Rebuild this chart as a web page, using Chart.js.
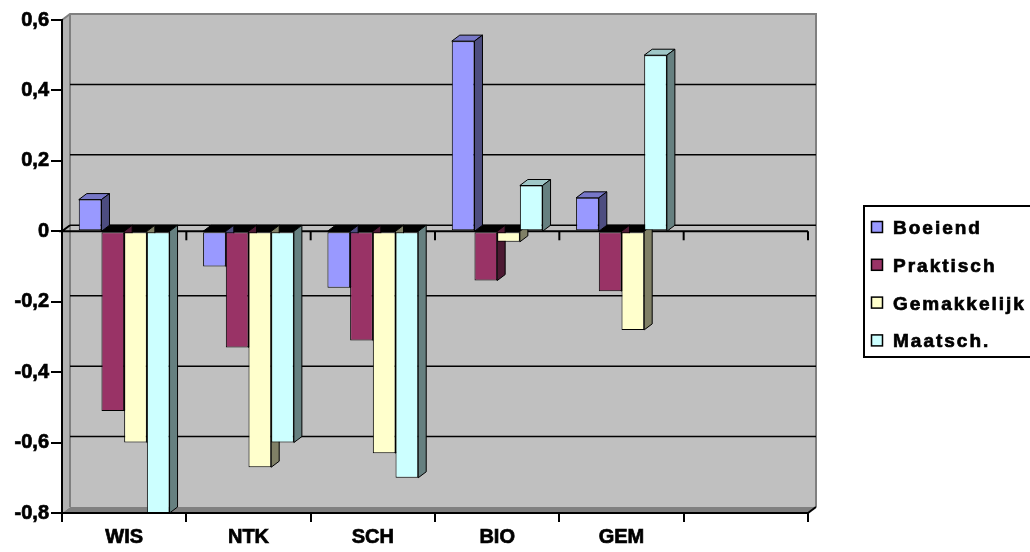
<!DOCTYPE html>
<html>
<head>
<meta charset="utf-8">
<script src="https://cdn.jsdelivr.net/npm/chart.js@4.4.1/dist/chart.umd.min.js"></script>
<style>
  html, body { margin: 0; padding: 0; background: #fff; }
  #wrap { width: 1030px; height: 552px; }
</style>
</head>
<body>
<div id="wrap"><canvas id="chart" width="1030" height="552"></canvas></div>
<script>
// data
const categories = ['WIS', 'NTK', 'SCH', 'BIO', 'GEM', ''];
const seriesNames = ['Boeiend', 'Praktisch', 'Gemakkelijk', 'Maatsch.'];
const boeiend = [0.09, -0.10, -0.16, 0.54, 0.095, null];
const praktisch = [-0.51, -0.33, -0.31, -0.14, -0.17, null];
const gemakkelijk = [-0.60, -0.67, -0.63, -0.03, -0.28, null];
const maatsch = [-0.80, -0.60, -0.70, 0.13, 0.50, null];
const yTicks = [-0.8, -0.6, -0.4, -0.2, 0, 0.2, 0.4, 0.6];

const seriesColors = ['#9999ff', '#993366', '#ffffcc', '#ccffff'];
const FONT = 'Arial, "Liberation Sans", sans-serif';
const DX = 8, DY = 6; // fake 3d depth

function shade(hex, f) {
    const n = parseInt(hex.slice(1), 16);
    const r = Math.round(((n >> 16) & 255) * f);
    const g = Math.round(((n >> 8) & 255) * f);
    const b = Math.round((n & 255) * f);
    return 'rgb(' + r + ',' + g + ',' + b + ')';
}

function poly(ctx, pts, fill) {
    ctx.beginPath();
    ctx.moveTo(pts[0][0], pts[0][1]);
    for (let i = 1; i < pts.length; i++) ctx.lineTo(pts[i][0], pts[i][1]);
    ctx.closePath();
    ctx.fillStyle = fill;
    ctx.fill();
    ctx.strokeStyle = '#000';
    ctx.lineWidth = 1;
    ctx.stroke();
}

const wallPlugin = {
    id: 'wall',
    beforeDraw(chart) {
        const ctx = chart.ctx;
        const a = chart.chartArea;
        const xs = chart.scales.x, ys = chart.scales.y;
        ctx.save();
        // back wall
        ctx.fillStyle = '#c0c0c0';
        ctx.fillRect(a.left + DX, a.top - DY, a.width, a.height);
        // side wall
        ctx.fillStyle = '#b2b2b2';
        ctx.beginPath();
        ctx.moveTo(a.left, a.top);
        ctx.lineTo(a.left + DX, a.top - DY);
        ctx.lineTo(a.left + DX, a.bottom - DY);
        ctx.lineTo(a.left, a.bottom);
        ctx.fill();
        // floor
        ctx.fillStyle = '#808080';
        ctx.beginPath();
        ctx.moveTo(a.left, a.bottom);
        ctx.lineTo(a.left + DX, a.bottom - DY);
        ctx.lineTo(a.right + DX, a.bottom - DY);
        ctx.lineTo(a.right, a.bottom);
        ctx.fill();
        // wall edges
        ctx.strokeStyle = '#808080';
        ctx.lineWidth = 2;
        ctx.beginPath();
        ctx.moveTo(a.left, a.top);
        ctx.lineTo(a.left + DX, a.top - DY);
        ctx.lineTo(a.right + DX, a.top - DY);
        ctx.lineTo(a.right + DX, a.bottom - DY);
        ctx.moveTo(a.left + DX, a.top - DY);
        ctx.lineTo(a.left + DX, a.bottom - DY);
        ctx.stroke();
        // back gridlines
        ctx.strokeStyle = '#000';
        ctx.lineWidth = 1.5;
        ys.ticks.forEach(t => {
            if (t.value <= ys.min + 1e-9 || t.value >= ys.max - 1e-9) return;
            const py = ys.getPixelForValue(t.value) - DY;
            ctx.beginPath();
            ctx.moveTo(a.left + DX, py);
            ctx.lineTo(a.right + DX, py);
            ctx.stroke();
        });
        // zero line in front, with category ticks
        const y0 = ys.getPixelForValue(0);
        ctx.lineWidth = 2;
        ctx.beginPath();
        ctx.moveTo(a.left + DX, y0 - DY);
        ctx.lineTo(a.left, y0);
        ctx.lineTo(a.right, y0);
        ctx.stroke();
        const n = categories.length;
        for (let k = 1; k <= n; k++) {
            const px = xs.left + k * xs.width / n;
            ctx.beginPath();
            ctx.moveTo(px, y0);
            ctx.lineTo(px, y0 + 9);
            ctx.stroke();
        }
        // bottom right corner
        ctx.beginPath();
        ctx.moveTo(a.right, a.bottom);
        ctx.lineTo(a.right + DX, a.bottom - DY);
        ctx.stroke();
        ctx.restore();
    },
    beforeDatasetsDraw(chart) {
        const ctx = chart.ctx;
        const y0 = chart.scales.y.getPixelForValue(0);
        const bars = [];
        chart.data.datasets.forEach((ds, i) => {
            chart.getDatasetMeta(i).data.forEach((el, j) => {
                const v = ds.data[j];
                if (v == null) return;
                const p = el.getProps(['x', 'y', 'width'], true);
                bars.push({
                    v: v, color: seriesColors[i],
                    l: p.x - p.width / 2, r: p.x + p.width / 2,
                    top: Math.min(p.y, y0), bot: Math.max(p.y, y0)
                });
            });
        });
        ctx.save();
        bars.forEach(b => {
            poly(ctx, [[b.l, b.top], [b.r, b.top], [b.r + DX, b.top - DY], [b.l + DX, b.top - DY]],
                b.v < 0 ? '#000' : shade(b.color, 0.78));
        });
        bars.forEach(b => {
            poly(ctx, [[b.r, b.top], [b.r + DX, b.top - DY], [b.r + DX, b.bot - DY], [b.r, b.bot]],
                shade(b.color, 0.5));
        });
        ctx.restore();
    },
    afterDraw(chart) {
        const ctx = chart.ctx;
        ctx.save();
        ctx.strokeStyle = '#000';
        ctx.lineWidth = 2;
        ctx.strokeRect(864, 206, 300, 151);
        ctx.font = 'bold 19px ' + FONT;
        ctx.letterSpacing = '2px';
        ctx.textBaseline = 'alphabetic';
        seriesNames.forEach((name, i) => {
            const cy = 227 + i * 37.8;
            ctx.fillStyle = seriesColors[i];
            ctx.fillRect(871.5, cy - 5.5, 11, 11);
            ctx.lineWidth = 1.5;
            ctx.strokeRect(871.5, cy - 5.5, 11, 11);
            ctx.fillStyle = '#000';
            ctx.fillText(name, 893, cy + 7);
            ctx.lineWidth = 0.7;
            ctx.strokeText(name, 893, cy + 7);
        });
        ctx.restore();
    }
};

const seriesData = [boeiend, praktisch, gemakkelijk, maatsch];

new Chart(document.getElementById('chart').getContext('2d'), {
    type: 'bar',
    data: {
        labels: categories,
        datasets: seriesData.map((d, i) => ({
            label: seriesNames[i],
            data: d,
            backgroundColor: seriesColors[i],
            borderColor: '#000',
            borderWidth: 1,
            borderSkipped: false,
            categoryPercentage: 0.73,
            barPercentage: 1
        }))
    },
    options: {
        responsive: false,
        animation: false,
        layout: { padding: { top: 20, right: 222, bottom: 0, left: 0 } },
        plugins: {
            legend: { display: false },
            tooltip: { enabled: false }
        },
        scales: {
            x: {
                offset: true,
                grid: { drawOnChartArea: false, drawTicks: true, tickLength: 9, color: '#000', lineWidth: 2, offset: true },
                border: { color: '#000', width: 2 },
                ticks: {
                    color: '#000', font: { family: FONT, size: 20, weight: 'bold' }, padding: 3, maxRotation: 0,
                    textStrokeColor: '#000', textStrokeWidth: 0.7
                },
                afterFit(scale) { scale.height = 39; }
            },
            y: {
                min: -0.8,
                max: 0.6,
                afterBuildTicks(scale) { scale.ticks = yTicks.map(v => ({ value: v })); },
                grid: { drawOnChartArea: false, drawTicks: true, tickLength: 11, color: '#000', lineWidth: 2 },
                border: { color: '#000', width: 2 },
                ticks: {
                    color: '#000',
                    padding: 2,
                    font: { family: FONT, size: 20, weight: 'bold' },
                    textStrokeColor: '#000', textStrokeWidth: 0.7,
                    callback: v => Math.abs(v) < 1e-9 ? '0' : v.toFixed(1).replace('.', ',')
                },
                afterFit(scale) { scale.width = 62; }
            }
        }
    },
    plugins: [wallPlugin]
});
</script>
</body>
</html>
